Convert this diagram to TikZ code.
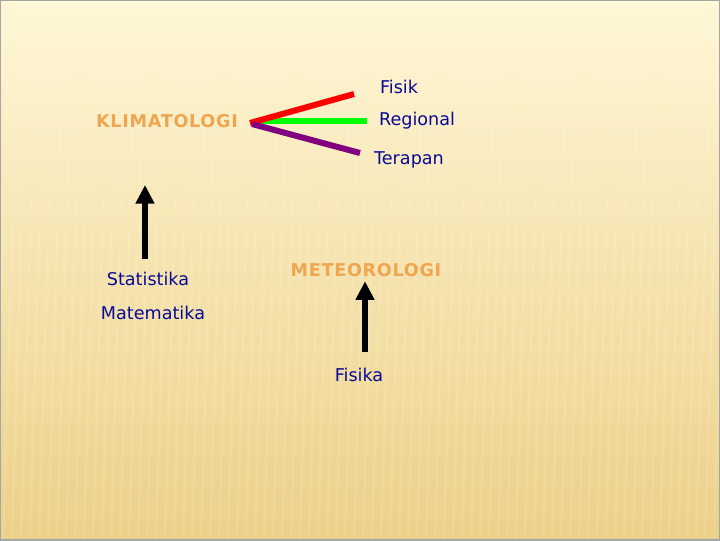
\documentclass[tikz,border=0pt]{standalone}
\usepackage{fontspec}
\setmainfont{DejaVu Sans}
\usepackage{tikz}
\usetikzlibrary{calc,arrows.meta}
\definecolor{txtblue}{RGB}{10,10,150}
\definecolor{klimorange}{RGB}{240,165,80}
\definecolor{forkred}{RGB}{255,0,0}
\definecolor{forkgreen}{RGB}{0,255,0}
\definecolor{forkpurple}{RGB}{128,0,128}
\definecolor{bgtop}{RGB}{255,247,214}
\definecolor{bgbot}{RGB}{236,208,136}

\begin{document}
\begin{tikzpicture}[x=0.75pt, y=-0.75pt,
    label/.style={font=\fontsize{13.2}{15}\selectfont, text=txtblue, inner sep=1pt},
    head/.style={font=\bfseries\fontsize{13.2}{15}\selectfont\addfontfeature{LetterSpace=4}, text=klimorange, inner sep=1pt},
    fork/.style={line width=4.5pt},
    uparrow/.style={line width=4.2pt, -{Triangle[width=13.5pt,length=14pt]}}]
            % background
            \useasboundingbox (0,0) rectangle (720,540);
            \begin{scope}
              \clip (0,0) rectangle (720,540);
              \shade[top color=bgtop, bottom color=bgbot] (0,0) rectangle (720,540);
              \foreach \sx in {0,9,...,740} {
                \draw[white, opacity=0.12, line width=1.5pt] (\sx,40) -- (\sx-15,540);
              }
              \draw[gray!70, line width=1.2pt] (0,0) rectangle (720,540);
            \end{scope}
            % nodes
            \node[head]  (klim)   at (167,121) {KLIMATOLOGI};
            \node[label] (fisik)  at (399,87)  {Fisik};
            \node[label] (reg)    at (417,121) {Regional};
            \node[label] (terap)  at (409,160) {Terapan};
            \node[label] (stat)   at (148,279) {Statistika};
            \node[label] (mate)   at (153,313) {Matematika};
            \node[head]  (meteo)  at (366,270) {METEOROLOGI};
            \node[label] (fisika) at (359,375) {Fisika};
            % fork ends
            \coordinate (forkR) at (250,123);
            \coordinate (forkG) at (262,121);
            \coordinate (forkP) at (252,124);
            \coordinate (endR)  at (354,94);
            \coordinate (endG)  at (367,121);
            \coordinate (endP)  at (360,153);
            \coordinate (tipS)  at (145,185);
            \draw[fork, forkgreen]  (forkG) -- (endG);
            \draw[fork, forkred]    (forkR) -- (endR);
            \draw[fork, forkpurple] (forkP) -- (endP);
            % arrows
            \draw[uparrow] (stat.north -| tipS) ++(0,-12) -- (tipS);
            \draw[uparrow] ($(fisika.north)+(6,-15)$) -- ($(meteo.south)+(-1,3)$);
        \end{tikzpicture}
\end{document}
